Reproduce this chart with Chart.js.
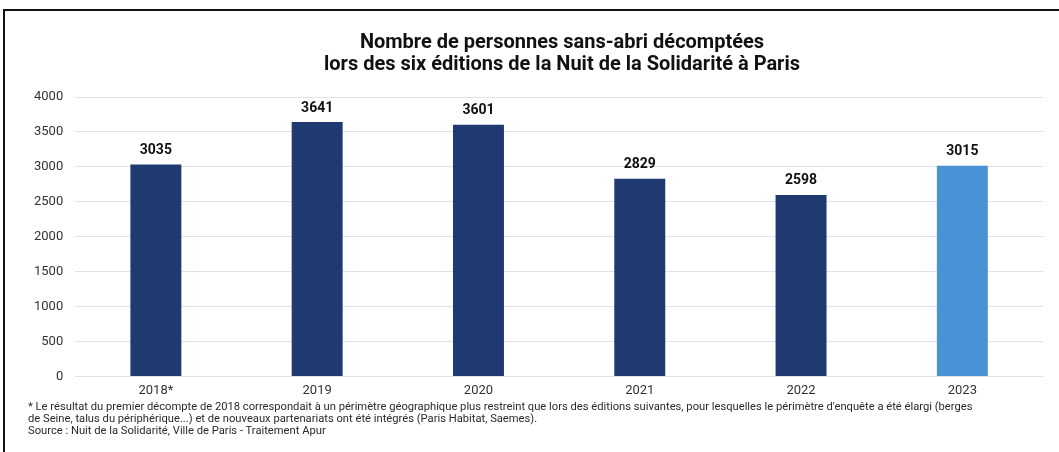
<!DOCTYPE html>
<html>
<head>
<meta charset="utf-8">
<script src="https://cdn.jsdelivr.net/npm/chart.js@4/dist/chart.umd.min.js"></script>
<style>
  html, body { margin: 0; padding: 0; background: #fff; }
  #wrap { position: relative; width: 1059px; height: 452px; overflow: hidden; background: #fff; }
  #frame { position: absolute; left: 3px; top: 9px; width: 1080px; height: 460px; border-top: 2px solid #111; border-left: 2px solid #111; }
  #cv { position: absolute; left: 0; top: 0; }
  #title { position: absolute; left: 262px; width: 600px; top: 30px; text-align: center; font-family: "Roboto", sans-serif; font-weight: bold; font-size: 20px; line-height: 22px; color: #111; }
  #notes { position: absolute; left: 28px; top: 401px; font-family: "Roboto", sans-serif; font-size: 11.2px; line-height: 12px; color: #2a2a2a; white-space: nowrap; letter-spacing: 0px; }
</style>
</head>
<body>
<div id="wrap">
  <div id="frame"></div>
  <canvas id="cv" width="1059" height="408"></canvas>
  <div id="title"></div>
  <div id="notes"></div>
</div>
<script>
const categories = ["2018*", "2019", "2020", "2021", "2022", "2023"];
const values = [3035, 3641, 3601, 2829, 2598, 3015];
const barColors = ["#1f3a70", "#1f3a70", "#1f3a70", "#1f3a70", "#1f3a70", "#4a92d6"];
const yTicks = [0, 500, 1000, 1500, 2000, 2500, 3000, 3500, 4000];
const titleLines = ["Nombre de personnes sans-abri décomptées", "lors des six éditions de la Nuit de la Solidarité à Paris"];
const noteLines = [
  "* Le résultat du premier décompte de 2018 correspondait à un périmètre géographique plus restreint que lors des éditions suivantes, pour lesquelles le périmètre d'enquête a été élargi (berges",
  "de Seine, talus du périphérique...) et de nouveaux partenariats ont été intégrés (Paris Habitat, Saemes).",
  "Source : Nuit de la Solidarité, Ville de Paris - Traitement Apur"
];

titleLines.forEach(t => { const d = document.createElement('div'); d.textContent = t; document.getElementById('title').appendChild(d); });
noteLines.forEach(t => { const d = document.createElement('div'); d.textContent = t; document.getElementById('notes').appendChild(d); });

const valueLabels = {
  id: 'valueLabels',
  afterDatasetsDraw(chart) {
    const ctx = chart.ctx;
    const meta = chart.getDatasetMeta(0);
    ctx.save();
    ctx.font = 'bold 14px Roboto, sans-serif';
    ctx.fillStyle = '#111';
    ctx.textAlign = 'center';
    ctx.textBaseline = 'middle';
    meta.data.forEach((bar, i) => {
      ctx.fillText(String(values[i]), bar.x, bar.y - 14);
    });
    ctx.restore();
  }
};

new Chart(document.getElementById('cv'), {
  type: 'bar',
  data: {
    labels: categories,
    datasets: [{
      data: values,
      backgroundColor: barColors,
      borderWidth: 0,
      barPercentage: 0.316,
      categoryPercentage: 1.0
    }]
  },
  options: {
    responsive: false,
    animation: false,
    layout: { padding: { left: 22, right: 16, top: 97, bottom: 2 } },
    plugins: {
      legend: { display: false },
      tooltip: { enabled: false },
      title: { display: false }
    },
    scales: {
      x: {
        grid: { display: false, drawTicks: false },
        border: { display: false },
        ticks: { color: '#333', font: { family: 'Roboto, sans-serif', size: 13 }, padding: 7 }
      },
      y: {
        min: 0,
        max: 4000,
        afterBuildTicks(axis) { axis.ticks = yTicks.map(v => ({ value: v })); },
        grid: { color: '#e2e2e2', drawTicks: false, lineWidth: 1 },
        border: { display: false },
        ticks: { color: '#333', font: { family: 'Roboto, sans-serif', size: 13 }, padding: 12, callback: v => String(v) }
      }
    }
  },
  plugins: [valueLabels]
});
</script>
</body>
</html>
